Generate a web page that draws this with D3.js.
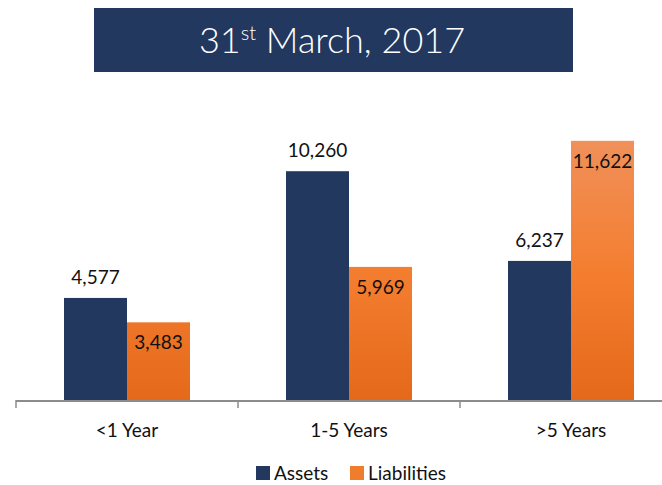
<!DOCTYPE html>
<html>
<head>
<meta charset="utf-8">
<script src="https://cdn.jsdelivr.net/npm/d3@7"></script>
<style>
  body { margin: 0; background: #fff; }
  text { font-family: Lato, "Open Sans", sans-serif; }
</style>
</head>
<body>
<script>
//Chart data
var categories = ["<1 Year", "1-5 Years", ">5 Years"];
var seriesNames = ["Assets", "Liabilities"];
var assets = [4577, 10260, 6237];
var liabilities = [3483, 5969, 11622];

var w = 662, h = 485;
var baseY = 400;
var colors = { Assets: "#22385f", Liabilities: "url(#orangeGrad)" };

var svg = d3.select("body").append("svg")
    .attr("width", w)
    .attr("height", h);

//Orange gradient for liabilities
var grad = svg.append("defs").append("linearGradient")
    .attr("id", "orangeGrad")
    .attr("gradientUnits", "userSpaceOnUse")
    .attr("x1", 0).attr("y1", 141).attr("x2", 0).attr("y2", baseY);
grad.append("stop").attr("offset", "0%").attr("stop-color", "#f0905a");
grad.append("stop").attr("offset", "50%").attr("stop-color", "#f47e30");
grad.append("stop").attr("offset", "100%").attr("stop-color", "#e5691a");

//Title box
svg.append("rect")
    .attr("x", 94).attr("y", 8)
    .attr("width", 479).attr("height", 64)
    .attr("fill", "#22385f");
var title = svg.append("text")
    .attr("x", 332).attr("y", 53)
    .attr("text-anchor", "middle")
    .attr("fill", "#fff")
    .attr("font-size", 36)
    .attr("font-weight", 300);
title.append("tspan").text("31");
title.append("tspan").attr("font-size", 20).attr("dy", -13).text("st");
title.append("tspan").attr("dy", 13).text(" March, 2017");

//Scales (plot runs past the right edge, as in the original)
var x0 = d3.scaleBand()
    .domain(categories)
    .range([16, 682]);

var x1 = d3.scaleBand()
    .domain(seriesNames)
    .range([48, 174]);

var y = d3.scaleLinear()
    .domain([0, 10000])
    .range([baseY, baseY - 223]);

var rows = categories.map(function (c, i) {
    return { cat: c, Assets: assets[i], Liabilities: liabilities[i] };
});

var groups = svg.selectAll("g.grp")
    .data(rows)
    .enter()
    .append("g")
    .attr("class", "grp")
    .attr("transform", function (d) { return "translate(" + x0(d.cat) + ",0)"; });

groups.selectAll("rect")
    .data(function (d) {
        return seriesNames.map(function (s) { return { key: s, value: d[s] }; });
    })
    .enter()
    .append("rect")
    .attr("x", function (d) { return x1(d.key); })
    .attr("width", x1.bandwidth())
    .attr("y", function (d) { return y(d.value); })
    .attr("height", function (d) { return baseY - y(d.value); })
    .attr("fill", function (d) { return colors[d.key]; });

//Value labels: assets above bar, liabilities inside top
groups.selectAll("text.val")
    .data(function (d) {
        return seriesNames.map(function (s) { return { key: s, value: d[s] }; });
    })
    .enter()
    .append("text")
    .attr("class", "val")
    .attr("x", function (d) { return x1(d.key) + x1.bandwidth() / 2; })
    .attr("y", function (d) {
        return d.key == "Assets" ? y(d.value) - 14 : y(d.value) + 27;
    })
    .attr("text-anchor", "middle")
    .attr("font-size", 19)
    .attr("fill", "#111")
    .text(function (d) { return d3.format(",")(d.value); });

//Axis
var axis = svg.append("g")
    .attr("transform", "translate(0," + baseY + ")")
    .call(d3.axisBottom(x0).tickSize(0).tickPadding(24));
axis.select(".domain").remove();
axis.selectAll("text")
    .attr("font-size", 19)
    .attr("fill", "#111")
    .style("font-family", "Lato, 'Open Sans', sans-serif");

svg.append("line")
    .attr("x1", 16).attr("x2", w)
    .attr("y1", baseY + 1).attr("y2", baseY + 1)
    .attr("stroke", "#8c8c8c").attr("stroke-width", 2);

svg.selectAll("line.tick")
    .data(categories)
    .enter()
    .append("line")
    .attr("class", "tick")
    .attr("x1", function (d) { return x0(d); })
    .attr("x2", function (d) { return x0(d); })
    .attr("y1", baseY).attr("y2", baseY + 8)
    .attr("stroke", "#8c8c8c").attr("stroke-width", 1.5);

//Legend
var legendX = [256, 350];
var legend = svg.selectAll("g.leg")
    .data(seriesNames)
    .enter()
    .append("g")
    .attr("class", "leg")
    .attr("transform", function (d, i) { return "translate(" + legendX[i] + ",466)"; });
legend.append("rect")
    .attr("width", 14).attr("height", 14)
    .attr("fill", function (d) { return d == "Assets" ? "#22385f" : "#f07d2c"; });
legend.append("text")
    .attr("x", 18).attr("y", 14)
    .attr("font-size", 19)
    .attr("fill", "#111")
    .text(function (d) { return d; });
</script>
</body>
</html>
